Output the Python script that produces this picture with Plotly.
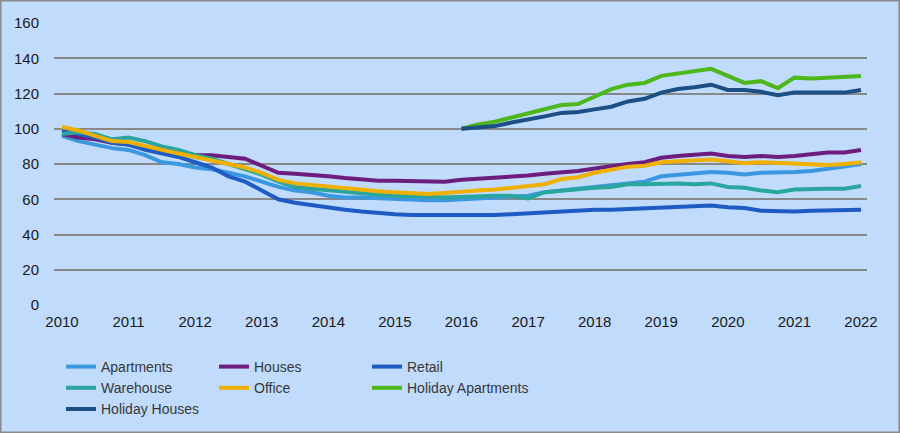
import plotly.graph_objects as go

# quarterly index values, 2010 Q1 .. 2022 Q1 (holiday series from 2016 Q1)
years = [2010 + q * 0.25 for q in range(49)]
years_holiday = years[24:]

apartments = [96, 93, 91, 89, 88, 85, 81, 80, 78, 77, 75, 73, 70, 67, 65, 64,
              62, 61, 61, 60.5, 60, 60, 59.5, 59.5, 60, 60, 60.5, 61, 62, 64, 65, 66,
              67, 68, 69, 70, 73, 74, 75, 75.5, 75, 74, 75, 75, 75.5, 76, 77, 78.5, 80]
houses = [97, 95, 94, 92, 91, 89, 88, 87, 85, 85, 84, 83, 79, 75, 74.5, 74,
          73, 72, 71, 70.5, 70.5, 70.5, 70, 70, 71, 71.5, 72, 72.5, 73.5, 74.5, 75, 76,
          77.5, 79, 80, 81, 83.5, 84.5, 85.5, 86, 84.5, 84, 84.5, 84, 84.5, 85.5, 86.5, 86.5, 88]
retail = [99, 97, 95, 92, 91, 88, 86, 84, 81, 78, 73, 70, 65, 60, 58, 56.5,
          55.5, 54, 53, 52, 51.5, 51, 51, 51, 50.5, 50.5, 51, 51.5, 52, 53, 53.5, 53.5,
          54, 54, 54.5, 55, 55.5, 56, 56.5, 56.5, 55.5, 55, 53.5, 53, 53, 53.5, 53.5, 54, 54]
warehouse = [97, 98, 97, 94, 95, 93, 90, 88, 85, 83, 80, 77, 74, 70, 67, 66,
             65, 64, 63, 62.5, 62, 62, 61.5, 61, 61.5, 62, 62, 62, 60.5, 64, 65, 66,
             66.5, 67, 68.5, 68.5, 69, 69, 68.5, 69, 67, 66.5, 65, 64, 65.5, 66, 66, 66, 67.5]
office = [101, 99, 96, 93, 92.5, 90, 88, 86, 84, 82, 80, 78, 75, 71, 69, 68,
          67, 66, 65, 64.5, 64, 63.5, 63, 63.5, 64.5, 65, 65.5, 66.5, 67.5, 68.5, 71.5, 72.5,
          75, 77, 78.5, 79, 81, 81.5, 82, 82.5, 81.5, 80.5, 81, 80.5, 80.5, 80, 79.5, 80, 81]
holiday_apartments = [100, 102.5, 104, 106.5, 108.5, 111, 113.5, 114, 118.5, 122.5, 125, 126,
                      130, 131.5, 133, 134, 130, 126, 127, 123, 129, 128.5, 129, 129.5, 130]
holiday_houses = [100, 101, 101.5, 103.5, 105, 107, 109, 109.5, 111, 112.5, 115.5, 117,
                  120.5, 122.5, 123.5, 125, 122, 122, 121, 119, 120.5, 120.5, 121, 120.5, 122]

# name, x, y, colour, legend column
series = [
    ("Apartments", years, apartments, "#3a97e0", "legend"),
    ("Houses", years, houses, "#6c1d7e", "legend2"),
    ("Retail", years, retail, "#1e5cc4", "legend3"),
    ("Warehouse", years, warehouse, "#2aa69e", "legend"),
    ("Office", years, office, "#f0b000", "legend2"),
    ("Holiday Apartments", years_holiday, holiday_apartments, "#4cb81c", "legend3"),
    ("Holiday Houses", years_holiday, holiday_houses, "#1b4f85", "legend"),
]

bg = "#c0dbfb"

fig = go.Figure()
for name, xs, ys, col, leg in series:
    fig.add_trace(go.Scatter(x=xs, y=ys, name=name, mode="lines", legend=leg,
                             line=dict(color=col, width=4)))

# plot area edges in pixels: left 54, right 867, top 23, bottom 305
L, R, T, B = 54, 33, 23, 128
pw, ph = 900 - L - R, 433 - T - B

leg_font = dict(family="Liberation Sans, Arial, sans-serif", size=14, color="#383838")


def legend_at(px_left):
    return dict(
        x=(px_left - L) / pw, xanchor="left",
        y=-(351 - 305) / ph, yanchor="top",
        tracegroupgap=0, bgcolor="rgba(0,0,0,0)", font=leg_font,
    )


fig.update_layout(
    width=900, height=433,
    # legends sit low in the margin; don't let them shrink the plot area
    margin=dict(l=L, r=R, t=T, b=B, autoexpand=False),
    paper_bgcolor=bg, plot_bgcolor=bg,
    font=dict(family="Liberation Sans, Arial, sans-serif", size=15, color="#1a1a1a"),
    showlegend=True,
    legend=legend_at(61),
    legend2=legend_at(214),
    legend3=legend_at(367),
    xaxis=dict(
        range=[2009.88, 2022.09],
        tickvals=list(range(2010, 2023)),
        showgrid=False, zeroline=False, showline=False,
        ticks="", ticklabelstandoff=6,
    ),
    yaxis=dict(
        range=[0, 160], dtick=20,
        showgrid=True, gridcolor="#888888", gridwidth=2,
        zeroline=False, showline=False, ticks="", ticklabelstandoff=14,
    ),
    shapes=[dict(
        type="rect", xref="paper", yref="paper",
        x0=-L / pw, x1=1 + R / pw, y0=-B / ph, y1=1 + T / ph,
        line=dict(color="#8a8a8a", width=3), fillcolor="rgba(0,0,0,0)", layer="above",
    )],
)

# drop the browser's default body margin so the figure sits at the window origin
fig.write_html("out.html", config={"displayModeBar": False},
               post_script="document.body.style.margin='0';")
